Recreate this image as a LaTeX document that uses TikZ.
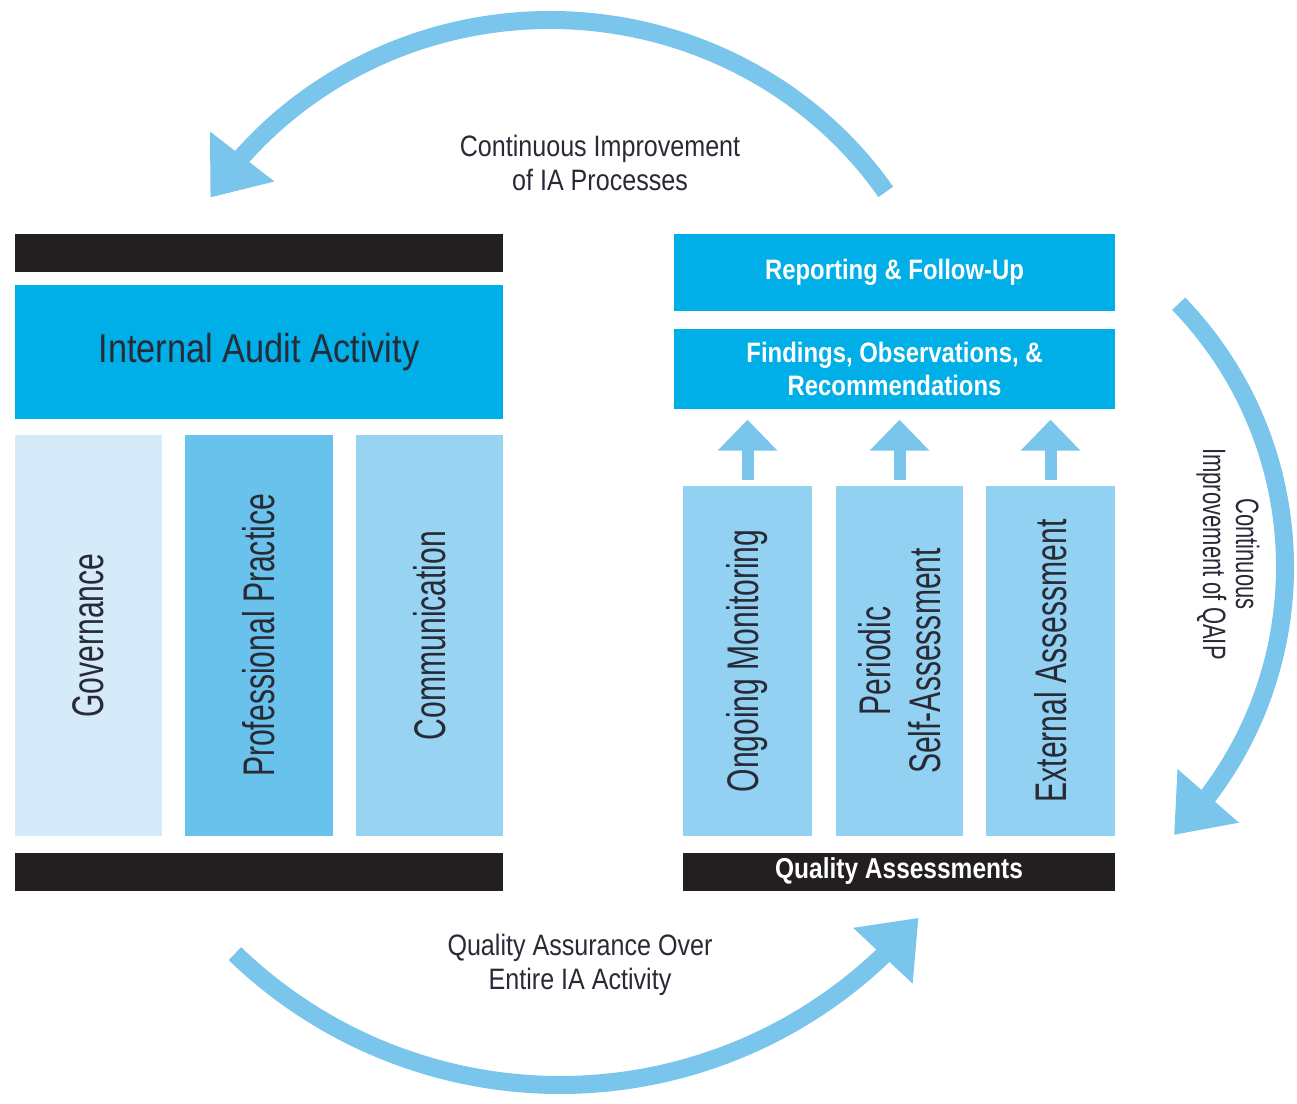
\documentclass[tikz,border=0pt]{standalone}
\usepackage{fontspec}
\setmainfont{Liberation Sans}[FakeStretch=0.85]
\newfontfamily\tallfont{Liberation Sans}[FakeStretch=0.68]
\usetikzlibrary{arrows.meta,bending,calc}
\definecolor{iacyan}{RGB}{0,174,232}
\definecolor{govblue}{RGB}{214,235,249}
\definecolor{ppblue}{RGB}{104,194,236}
\definecolor{comblue}{RGB}{152,211,242}
\definecolor{qablue}{RGB}{146,209,241}
\definecolor{arcblue}{RGB}{122,197,236}
\definecolor{barblack}{RGB}{35,31,32}
\definecolor{inkdark}{RGB}{40,42,54}

\begin{document}
\begin{tikzpicture}[
    bar/.style={rectangle, fill=barblack, inner sep=0pt, minimum height=0.38cm,
        text=white, font=\bfseries\fontsize{8.2}{9}\selectfont},
    band/.style={rectangle, fill=iacyan, inner sep=0pt, align=center,
        text=white, font=\bfseries\fontsize{8}{9.2}\selectfont},
    pillar/.style={rectangle, inner sep=0pt},
    pillartext/.style={rotate=90, align=center, text=inkdark,
        font=\tallfont\fontsize{12.6}{14.2}\selectfont},
    side/.style={align=center, text=inkdark, font=\fontsize{8.4}{9.6}\selectfont},
    loop arrow/.style={arcblue, line width=0.18cm, -{Triangle[width=0.78cm,length=0.52cm]}},
    lift/.style={arcblue, line width=0.12cm, -{Triangle[width=0.58cm,length=0.31cm]},
        shorten <=0.05cm, shorten >=0.1cm}
]
    \useasboundingbox (0,0) rectangle (12.97,-11.04);

    % left block
    \node[bar, minimum width=4.88cm](topbar) at (2.59,-2.53) {};
    \node[band, minimum width=4.88cm, minimum height=1.34cm, text=inkdark,
        font=\mdseries\fontsize{11.5}{13}\selectfont](iaa) at (2.59,-3.52) {Internal Audit Activity};
    \node[pillar, fill=govblue, minimum width=1.47cm, minimum height=4.01cm,
        label={[pillartext]center:Governance}](gov) at (0.885,-6.355) {};
    \node[pillar, fill=ppblue, minimum width=1.48cm, minimum height=4.01cm,
        label={[pillartext]center:Professional Practice}](prof) at (2.59,-6.355) {};
    \node[pillar, fill=comblue, minimum width=1.47cm, minimum height=4.01cm,
        label={[pillartext]center:Communication}](comm) at (4.295,-6.355) {};
    \node[bar, minimum width=4.88cm](botbar) at (2.59,-8.715) {};

    % right block
    \node[band, minimum width=4.41cm, minimum height=0.77cm](rep) at (8.945,-2.725) {Reporting \& Follow-Up};
    \node[band, minimum width=4.41cm, minimum height=0.80cm](find) at (8.945,-3.69)
        {Findings, Observations, \&\\Recommendations};
    \node[pillar, fill=qablue, minimum width=1.29cm, minimum height=3.5cm,
        label={[pillartext]center:Ongoing Monitoring}](mon) at (7.475,-6.61) {};
    \node[pillar, fill=qablue, minimum width=1.27cm, minimum height=3.5cm,
        label={[pillartext]center:Periodic\\Self-Assessment}](per) at (8.995,-6.61) {};
    \node[pillar, fill=qablue, minimum width=1.29cm, minimum height=3.5cm,
        label={[pillartext]center:External Assessment}](ext) at (10.505,-6.61) {};
    \node[bar, minimum width=4.32cm](qa) at (8.99,-8.715) {Quality Assessments};

    \draw[lift] (mon.north) -- (mon.north |- find.south);
    \draw[lift] (per.north) -- (per.north |- find.south);
    \draw[lift] (ext.north) -- (ext.north |- find.south);

    % loops
    \node[side](ciptxt) at (6.0,-1.63) {Continuous Improvement\\of IA Processes};
    \node[side](qatxt) at (5.8,-9.65) {Quality Assurance Over\\Entire IA Activity};
    \node[side, rotate=-90, font=\tallfont\fontsize{9.2}{9.4}\selectfont](qaiptxt) at (12.28,-5.54)
        {Continuous\\Improvement of QAIP};

    \coordinate (ciC) at (5.5,-4.1);
    \coordinate (qaipC) at (9.06,-5.67);
    \coordinate (qaC) at (5.6,-6.17);
    \coordinate (ciStart) at ($(ciC)+({4.05*cos(34)},{3.9*sin(34)})$);
    \coordinate (qaipStart) at ($(qaipC)+(44:3.79)$);
    \coordinate (qaStart) at ($(qaC)+(226:4.68)$);
    \draw[loop arrow] (ciStart) arc[start angle=34, end angle=147, x radius=4.05, y radius=3.9];
    \draw[loop arrow] (qaipStart) arc[start angle=44, end angle=-45, radius=3.79];
    \draw[loop arrow] (qaStart) arc[start angle=226, end angle=320, radius=4.68];
\end{tikzpicture}
\end{document}
